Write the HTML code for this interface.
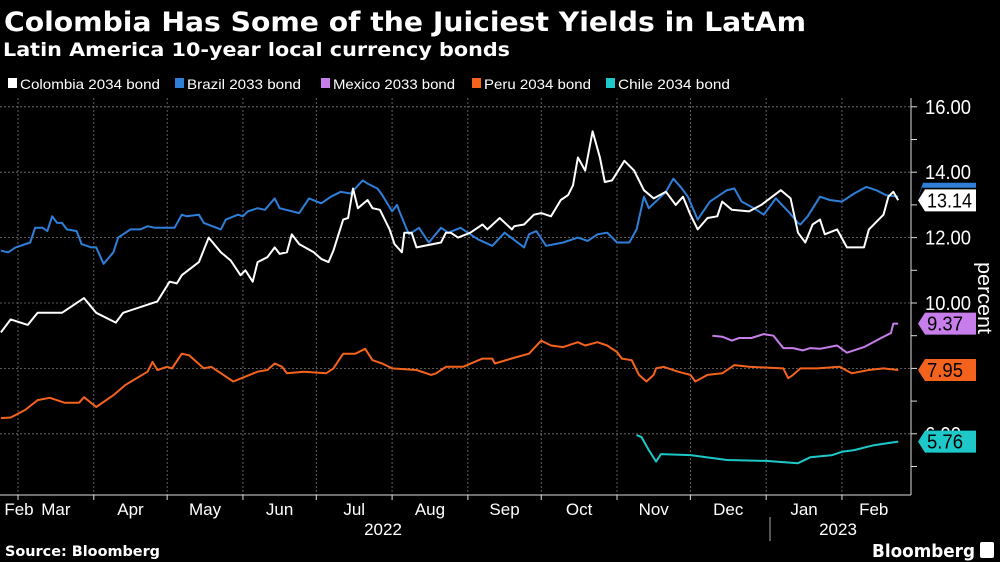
<!DOCTYPE html>
<html><head><meta charset="utf-8"><style>
html,body{margin:0;padding:0;background:#000;}
svg{display:block;}
text{font-family:"Liberation Sans Narrow","Liberation Sans",sans-serif;fill:#fff;}
.b{font-family:"DejaVu Sans","Liberation Sans",sans-serif;font-weight:bold;}
</style></head><body>
<svg id="chart" width="1000" height="562" viewBox="0 0 1000 562" xmlns="http://www.w3.org/2000/svg">
<rect width="1000" height="562" fill="#000"/>
<text class="b" x="4" y="31" font-size="27" textLength="802" lengthAdjust="spacingAndGlyphs">Colombia Has Some of the Juiciest Yields in LatAm</text>
<text class="b" x="3" y="56" font-size="19" textLength="507" lengthAdjust="spacingAndGlyphs">Latin America 10-year local currency bonds</text>
<g id="legend"></g>
<g id="grid"></g>
<g id="series"></g>
<g id="axes"></g>
<g id="tags"></g>
<text class="b" x="5" y="556" font-size="14" textLength="155" lengthAdjust="spacingAndGlyphs">Source: Bloomberg</text>
<text class="b" x="872" y="557" font-size="18" textLength="103" lengthAdjust="spacingAndGlyphs">Bloomberg</text>
<rect x="980" y="542" width="14" height="16" rx="2" fill="#fff"/>
</svg>
<script>
// dates as day offsets from 2022-03-01
const colDays=[-7,-3,4,8,18,27,32,40,43,51,57,62,65,67,74,78,83,87,91,93,96,98,102,105,107,110,112,115,121,124,127,129,133,135,137,139,143,145,148,152,154,157,158,161,163,173,175,177,180,185,190,192,197,202,203,207,211,214,218,222,225,227,229,232,235,238,240,243,248,252,256,260,265,269,272,275,278,282,286,288,292,299,304,312,316,319,322,325,328,330,335,339,346,348,354,356,358,360];
const colVals=[9.1,9.5,9.33,9.7,9.7,10.15,9.7,9.4,9.7,9.9,10.05,10.65,10.6,10.85,11.25,12.0,11.55,11.3,10.85,11.0,10.65,11.25,11.4,11.7,11.5,11.55,12.1,11.8,11.55,11.35,11.25,11.6,12.55,12.6,13.5,12.9,13.15,12.9,12.85,12.25,11.8,11.55,12.15,12.15,11.7,11.85,12.15,12.15,12.0,12.15,12.4,12.25,12.6,12.25,12.35,12.4,12.7,12.75,12.65,13.15,13.3,13.6,14.45,14.05,15.25,14.45,13.7,13.75,14.35,14.05,13.45,13.2,13.4,13.0,13.25,12.7,12.25,12.6,12.65,13.1,12.85,12.8,13.0,13.45,13.2,12.15,11.85,12.4,12.55,12.1,12.25,11.7,11.7,12.25,12.7,13.25,13.4,13.14];
const braDays=[-7,-4,-1,5,7,10,12,14,16,18,20,24,26,30,32,35,39,41,46,50,53,56,61,64,67,69,74,76,83,85,90,92,94,98,101,105,107,115,119,124,128,132,136,141,143,147,149,153,155,156,159,160,164,168,173,176,181,188,194,199,207,209,212,216,223,229,233,237,241,245,250,253,256,258,263,265,268,271,274,278,283,290,293,296,301,305,310,315,319,320,323,328,332,337,342,347,351,355,360];
const braVals=[11.6,11.55,11.7,11.85,12.3,12.3,12.2,12.65,12.45,12.45,12.25,12.2,11.8,11.7,11.7,11.2,11.55,12.0,12.25,12.25,12.35,12.3,12.3,12.3,12.7,12.65,12.7,12.45,12.25,12.55,12.7,12.65,12.8,12.9,12.85,13.2,12.9,12.75,13.2,13.05,13.25,13.4,13.35,13.75,13.65,13.5,13.3,12.8,13.0,12.8,12.25,12.1,12.3,11.85,12.3,12.15,12.3,11.95,11.75,12.15,11.7,12.1,12.2,11.75,11.85,12.0,11.9,12.1,12.15,11.85,11.85,12.25,13.25,12.9,13.25,13.4,13.8,13.55,13.25,12.55,13.1,13.45,13.5,13.1,12.9,12.7,13.2,12.8,12.45,12.4,12.65,13.25,13.15,13.1,13.35,13.55,13.45,13.3,13.25];
const mexDays=[284,288,292,295,300,305,309,313,317,321,324,328,335,339,346,353,357,358,360];
const mexVals=[9.0,8.97,8.85,8.93,8.93,9.05,9.0,8.62,8.62,8.55,8.62,8.6,8.7,8.48,8.65,8.93,9.08,9.37,9.37];
const perDays=[-7,-3,3,8,13,19,25,27,32,39,44,53,55,57,61,63,67,70,76,79,88,98,102,105,108,110,117,126,129,133,138,142,145,149,153,163,169,171,175,182,190,194,195,204,209,214,218,223,229,232,237,241,245,247,251,254,257,260,261,264,270,275,277,282,288,293,299,313,315,317,320,327,336,341,348,354,360];
const perVals=[6.48,6.5,6.73,7.03,7.1,6.95,6.95,7.12,6.82,7.18,7.5,7.9,8.2,7.95,8.05,8.0,8.45,8.4,8.0,8.05,7.6,7.9,7.95,8.15,8.05,7.85,7.9,7.85,8.0,8.45,8.45,8.6,8.25,8.15,8.0,7.95,7.8,7.85,8.05,8.05,8.3,8.3,8.15,8.35,8.45,8.85,8.7,8.65,8.8,8.7,8.8,8.7,8.5,8.3,8.25,7.8,7.6,7.8,8.0,8.05,7.9,7.8,7.6,7.8,7.85,8.1,8.05,8.0,7.7,7.8,8.0,8.0,8.05,7.85,7.95,8.0,7.95];
const chiDays=[253,255,258,261,263,275,290,306,319,324,333,337,342,350,360];
const chiVals=[5.96,5.9,5.5,5.15,5.38,5.35,5.2,5.17,5.1,5.28,5.35,5.45,5.5,5.65,5.76];
const yTicks=[6,8,10,12,14,16];
const yTickLabels=["6.00","8.00","10.00","12.00","14.00","16.00"];
const monthDays=[0,31,61,92,122,153,184,214,245,275,306,337];
const monthLabels=["Mar","Apr","May","Jun","Jul","Aug","Sep","Oct","Nov","Dec","Jan","Feb"];
const lastVals=["13.14","9.37","7.95","5.76"];

const NS="http://www.w3.org/2000/svg";
const X=d=>18+d*2.445;
const Y=v=>303-(v-10)*32.7;
function el(tag,attrs,parent){const e=document.createElementNS(NS,tag);for(const k in attrs)e.setAttribute(k,attrs[k]);parent.appendChild(e);return e;}
const grid=document.getElementById('grid'),axes=document.getElementById('axes'),series=document.getElementById('series'),tags=document.getElementById('tags'),legend=document.getElementById('legend');

const legNames=["Colombia 2034 bond","Brazil 2033 bond","Mexico 2033 bond","Peru 2034 bond","Chile 2034 bond"];
const legCols=["#ffffff","#2f7fd8","#c77dea","#f4631e","#1ec8c8"];
const legX=[8,175,321,472,606];
const legW=[140,114,122,107,112];
legNames.forEach((n,i)=>{
  const r=el('rect',{x:legX[i],y:78,width:9,height:10,fill:legCols[i]},legend);
  
  
  const t=el('text',{x:legX[i]+12,y:89,'font-size':14,textLength:legW[i],lengthAdjust:'spacingAndGlyphs'},legend);
  t.textContent=n;
  
  
});

yTicks.forEach(v=>{
  const l=el('line',{x1:0,x2:911,y1:Y(v),y2:Y(v),stroke:'#777','stroke-width':0.8,'stroke-dasharray':'2,2'},grid);
  
  
});
monthDays.forEach(d=>{
  const l=el('line',{x1:X(d),x2:X(d),y1:98,y2:495,stroke:'#777','stroke-width':0.8,'stroke-dasharray':'2,2'},grid);
  
  
});

function line(days,vals,col,name){
  const p=el('polyline',{points:days.map((d,i)=>X(d).toFixed(1)+','+Y(vals[i]).toFixed(1)).join(' '),fill:'none',stroke:col,'stroke-width':2,'stroke-linejoin':'round'},series);
  
  
}
line(perDays,perVals,'#f4631e','peru-line');
line(chiDays,chiVals,'#1ec8c8','chile-line');
line(mexDays,mexVals,'#c77dea','mexico-line');
line(braDays,braVals,'#2f7fd8','brazil-line');
line(colDays,colVals,'#ffffff','colombia-line');

el('line',{x1:0,x2:911,y1:495,y2:495,stroke:'#ddd','stroke-width':1},axes);
el('line',{x1:911,x2:911,y1:98,y2:495,stroke:'#ddd','stroke-width':1},axes);
for(let v=5;v<=16;v++){
  const t=el('line',{x1:911,x2:917,y1:Y(v),y2:Y(v),stroke:'#ddd','stroke-width':1},axes);
  
  
}
yTicks.forEach((v,i)=>{
  const t=el('text',{x:925,y:Y(v)+7,'font-size':20,textLength:yTickLabels[i].length>4?46:36,lengthAdjust:'spacingAndGlyphs'},axes);
  t.textContent=yTickLabels[i];
  
  
});
const pl=el('text',{x:0,y:0,'font-size':20,transform:'translate(978,262) rotate(90)',textLength:72,lengthAdjust:'spacingAndGlyphs'},axes);
pl.textContent='percent';


monthDays.forEach((d,i)=>{
  const tk=el('line',{x1:X(d),x2:X(d),y1:495,y2:500,stroke:'#ddd','stroke-width':1},axes);
  
  
  const next=i+1<monthDays.length?monthDays[i+1]:363;
  const t=el('text',{x:(X(d)+X(next))/2,y:515,'font-size':17,'text-anchor':'middle'},axes);
  t.textContent=monthLabels[i];
  
  
});
const fl=el('text',{x:19,y:515,'font-size':17,'text-anchor':'middle'},axes);
fl.textContent='Feb';


const y1=el('text',{x:383,y:535,'font-size':17,'text-anchor':'middle'},axes);
y1.textContent='2022';


const y2=el('text',{x:838,y:535,'font-size':17,'text-anchor':'middle'},axes);
y2.textContent='2023';


el('line',{x1:770,x2:770,y1:517,y2:541,stroke:'#aaa','stroke-width':1},axes);

function tag(v,col,label,name){
  const cy=Y(v);
  const g=el('g',{},tags);
  
  
  el('path',{d:`M918,${cy} L925,${cy-11} L976,${cy-11} L976,${cy+11} L925,${cy+11} Z`,fill:col},g);
  if(label){const t=el('text',{x:927,y:cy+7,'font-size':20,style:'fill:#000',textLength:label.length>4?45:36,lengthAdjust:'spacingAndGlyphs'},g);t.textContent=label;}
}
const bl=el('path',{d:`M918,${Y(13.25)+1} L923,${Y(13.25)-14} L976,${Y(13.25)-14} L976,${Y(13.25)-9} L922,${Y(13.25)-9} Z`,fill:'#2f7fd8'},tags);


tag(colVals[colVals.length-1],'#ffffff',lastVals[0],'colombia-tag');
tag(mexVals[mexVals.length-1],'#c77dea',lastVals[1],'mexico-tag');
tag(perVals[perVals.length-1],'#f4631e',lastVals[2],'peru-tag');
tag(chiVals[chiVals.length-1],'#1ec8c8',lastVals[3],'chile-tag');
</script>
</body></html>
